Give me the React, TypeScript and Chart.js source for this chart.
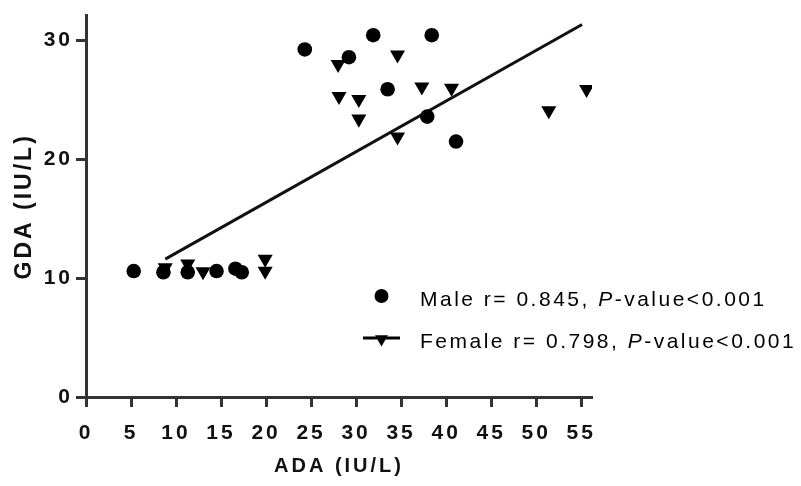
import React, { useEffect, useRef } from "react";
import { Chart, registerables } from "chart.js";

Chart.register(...registerables);

// ---- data ----
const maleX = [24.3, 29.2, 31.9, 38.4, 33.5, 37.9, 41.1, 5.3, 8.6, 11.3, 14.5, 16.6, 17.3];
const maleY = [29.25, 28.6, 30.45, 30.45, 25.9, 23.6, 21.5, 10.6, 10.5, 10.5, 10.6, 10.8, 10.5];

const femaleX = [28.0, 34.6, 28.1, 30.3, 30.3, 37.3, 40.6, 34.6, 51.4, 55.6, 8.8, 11.3, 13.0, 19.9, 19.9];
const femaleY = [28.0, 28.8, 25.3, 25.05, 23.4, 26.1, 26.0, 21.9, 24.1, 25.9, 10.9, 11.2, 10.55, 11.6, 10.6];

const fitX = [8.8, 55.1];
const fitY = [11.6, 31.35];

const xTickValues = [0, 5, 10, 15, 20, 25, 30, 35, 40, 45, 50, 55];
const yTickValues = [0, 10, 20, 30];

const xTitle = "ADA (IU/L)";
const yTitle = "GDA (IU/L)";

const legendNames = ["Male", "Female"];
const legendR = ["0.845", "0.798"];
const legendP = "P";
const legendPSuffix = "-value<0.001";

const FONT = '"Liberation Sans", Arial, Helvetica, sans-serif';

const toPoints = (xs: number[], ys: number[]) => xs.map((x, i) => ({ x, y: ys[i] }));

const spacingPlugin = {
  id: "letterSpacing",
  beforeUpdate(chart: any) {
    (chart.ctx as any).letterSpacing = "3px";
  },
  beforeDraw(chart: any) {
    (chart.ctx as any).letterSpacing = "3px";
  },
};

const legendPlugin = {
  id: "insideLegend",
  afterDatasetsDraw(chart: any) {
    const ctx: CanvasRenderingContext2D = chart.ctx;
    ctx.save();
    (ctx as any).letterSpacing = "2.5px";
    ctx.fillStyle = "#000";
    ctx.strokeStyle = "#000";
    ctx.textBaseline = "alphabetic";
    ctx.textAlign = "left";
    const rows = [
      { markerY: 296, textY: 306, kind: "circle" },
      { markerY: 339, textY: 348, kind: "triangle" },
    ];
    rows.forEach((row, i) => {
      const mx = 381.5;
      if (row.kind === "circle") {
        ctx.beginPath();
        ctx.arc(mx, row.markerY, 7, 0, Math.PI * 2);
        ctx.fill();
      } else {
        ctx.lineWidth = 3;
        ctx.beginPath();
        ctx.moveTo(363, row.markerY - 1);
        ctx.lineTo(400, row.markerY - 1);
        ctx.stroke();
        const r = 7.5;
        ctx.beginPath();
        ctx.moveTo(mx, row.markerY + r);
        ctx.lineTo(mx - r * 0.866, row.markerY - r * 0.5);
        ctx.lineTo(mx + r * 0.866, row.markerY - r * 0.5);
        ctx.closePath();
        ctx.fill();
      }
      let x = 420;
      const part1 = `${legendNames[i]} r= ${legendR[i]}, `;
      ctx.font = `21px ${FONT}`;
      ctx.fillText(part1, x, row.textY);
      x += ctx.measureText(part1).width;
      ctx.font = `italic 21px ${FONT}`;
      ctx.fillText(legendP, x, row.textY);
      x += ctx.measureText(legendP).width;
      ctx.font = `21px ${FONT}`;
      ctx.fillText(legendPSuffix, x, row.textY);
    });
    ctx.restore();
  },
};

export default function App() {
  const canvasRef = useRef<HTMLCanvasElement | null>(null);

  useEffect(() => {
    const canvas = canvasRef.current;
    if (!canvas) return;
    Chart.defaults.font.family = FONT;
    const chart = new Chart(canvas, {
      type: "scatter",
      data: {
        datasets: [
          {
            label: "Fit",
            data: toPoints(fitX, fitY),
            showLine: true,
            borderColor: "#111",
            borderWidth: 3,
            pointRadius: 0,
            fill: false,
            order: 3,
          } as any,
          {
            label: "Male",
            data: toPoints(maleX, maleY),
            pointStyle: "circle",
            pointRadius: 7.3,
            backgroundColor: "#000",
            borderColor: "#000",
            borderWidth: 0,
            order: 1,
          },
          {
            label: "Female",
            data: toPoints(femaleX, femaleY),
            pointStyle: "triangle",
            rotation: 180,
            pointRadius: 8.7,
            backgroundColor: "#000",
            borderColor: "#000",
            borderWidth: 0,
            order: 2,
          } as any,
        ],
      },
      options: {
        animation: false,
        responsive: false,
        devicePixelRatio: 1,
        events: [],
        layout: { padding: { left: 0, top: 14, right: 209, bottom: 0 } },
        plugins: {
          legend: { display: false },
          tooltip: { enabled: false },
        },
        scales: {
          x: {
            type: "linear",
            min: 0,
            max: 56.2,
            afterFit: (s: any) => {
              s.height = 89;
            },
            afterBuildTicks: (s: any) => {
              s.ticks = xTickValues.map((v) => ({ value: v }));
            },
            ticks: {
              includeBounds: false,
              autoSkip: false,
              maxRotation: 0,
              padding: 14,
              color: "#111",
              font: { size: 21, weight: "bold" },
            },
            grid: {
              display: true,
              drawOnChartArea: false,
              drawTicks: true,
              tickLength: 10,
              tickWidth: 3,
              tickColor: "#333",
            },
            border: { display: true, color: "#333", width: 3 },
            title: {
              display: true,
              text: xTitle,
              color: "#111",
              font: { size: 20, weight: "bold" },
              padding: { top: 0, bottom: 8 },
            },
          },
          y: {
            type: "linear",
            min: 0,
            max: 32.1,
            afterFit: (s: any) => {
              s.width = 86;
            },
            afterBuildTicks: (s: any) => {
              s.ticks = yTickValues.map((v) => ({ value: v }));
            },
            ticks: {
              includeBounds: false,
              autoSkip: false,
              padding: 3,
              color: "#111",
              font: { size: 21, weight: "bold" },
            },
            grid: {
              display: true,
              drawOnChartArea: false,
              drawTicks: true,
              tickLength: 10,
              tickWidth: 3,
              tickColor: "#333",
            },
            border: { display: true, color: "#333", width: 3 },
            title: {
              display: true,
              text: yTitle,
              color: "#111",
              font: { size: 23, weight: "bold" },
              padding: { top: 11, bottom: 0 },
            },
          },
        },
      } as any,
      plugins: [spacingPlugin, legendPlugin],
    });
    return () => chart.destroy();
  }, []);

  return (
    <div style={{ position: "fixed", left: 0, top: 0, width: 801, height: 486, background: "#fff" }}>
      <canvas ref={canvasRef} width={801} height={486} style={{ display: "block", width: 801, height: 486 }} />
    </div>
  );
}
